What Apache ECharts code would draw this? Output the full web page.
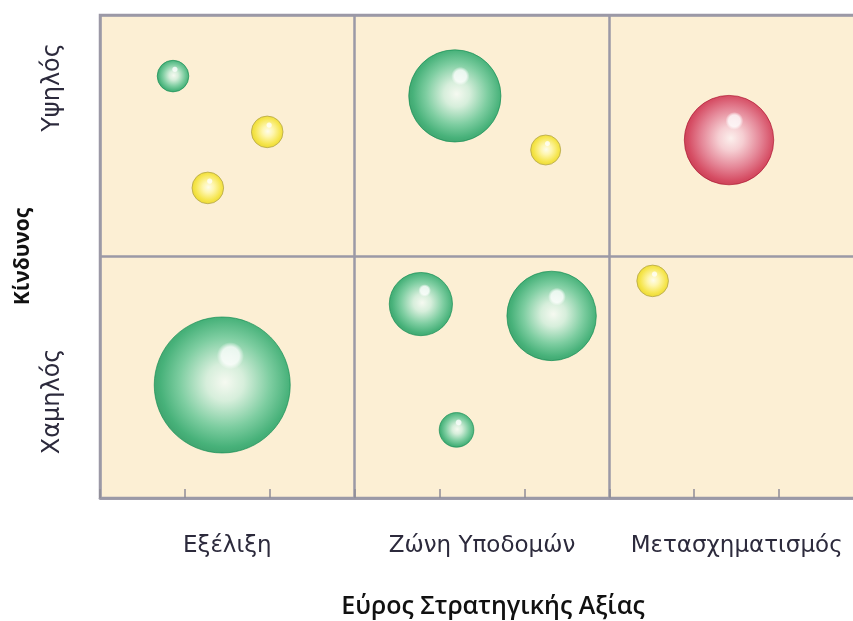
<!DOCTYPE html>
<html><head><meta charset="utf-8">
<script src="https://cdn.jsdelivr.net/npm/echarts@6/dist/echarts.min.js"></script>
<style>html,body{margin:0;padding:0;background:#fff}#c{width:853px;height:621px}</style>
</head><body><div id="c"></div>
<script>
const xCategories = ['Εξέλιξη', 'Ζώνη Υποδομών', 'Μετασχηματισμός'];
const xCategoryPositions = [1.5, 4.5, 7.5];
const yLevels = ['Χαμηλός', 'Υψηλός'];
const yLevelPositions = [4, 17];
const xTitle = 'Εύρος Στρατηγικής Αξίας';
const yTitle = 'Κίνδυνος';
// [x, y, size]
const greenBubbles = [[0.86, 17.47, 10], [4.18, 16.65, 85], [3.78, 8.03, 40], [5.32, 7.54, 80], [4.20, 2.82, 12], [1.44, 4.68, 185]];
const yellowBubbles = [[1.97, 15.16, 10], [1.27, 12.84, 10], [5.25, 14.41, 9], [6.51, 8.99, 10]];
const redBubbles = [[7.41, 14.82, 80]];

const diam = v => 10 * Math.sqrt(v[2]);
function grad(stops) {
  return {type: 'radial', x: 0.52, y: 0.48, r: 0.55, colorStops: stops.map(s => ({offset: s[0], color: s[1]}))};
}
const styles = {
  green: {color: grad([[0, '#f4fcf8'], [0.25, '#cdeedd'], [0.6, '#5ec594'], [0.86, '#1aa263'], [1, '#0d8c51']]), borderColor: '#0e8a50', borderWidth: 0.8},
  yellow: {color: grad([[0, '#fffff2'], [0.3, '#fff8a8'], [0.72, '#f4e32c'], [1, '#e3cf00']]), borderColor: '#b4a64c', borderWidth: 1},
  red: {color: grad([[0, '#fcf0f3'], [0.25, '#f4c6d2'], [0.6, '#de6a86'], [0.86, '#cc2447'], [1, '#b70f2f']]), borderColor: '#a80c2a', borderWidth: 0.8}
};
function baseSeries(data, st) {
  return {type: 'scatter', data: data, symbolSize: diam, itemStyle: st, z: 3, emphasis: {disabled: true}};
}
function shineSeries(data) {
  return {
    type: 'scatter', z: 4, silent: true,
    data: data.map(v => {
      const d = diam(v);
      return {value: v, symbolSize: d * 0.2, symbolOffset: [d * 0.06, -d * 0.215]};
    }),
    itemStyle: {color: {type: 'radial', x: 0.5, y: 0.5, r: 0.5, colorStops: [{offset: 0, color: 'rgba(255,255,255,1)'}, {offset: 0.65, color: 'rgba(255,255,255,0.97)'}, {offset: 1, color: 'rgba(255,255,255,0)'}]}}
  };
}
const lineCol = '#9b99a6';
const txtCol = '#2c2a3c';
const font = 'DejaVu Sans';

const option = {
  animation: false,
  grid: {left: 100, top: 15, bottom: 123, right: -11, outerBoundsMode: 'none', containLabel: false, show: true, backgroundColor: '#fcefd4', borderColor: lineCol, borderWidth: 2.5},
  xAxis: [
    {type: 'value', min: 0, max: 9, interval: 3, axisLine: {show: false}, axisTick: {show: false}, axisLabel: {show: false},
     splitLine: {show: true, lineStyle: {color: lineCol, width: 2.5}}},
    {type: 'value', min: 0, max: 9, interval: 1, position: 'bottom', axisLine: {show: true, lineStyle: {color: lineCol, width: 2.5}},
     axisTick: {show: true, inside: true, length: 9, lineStyle: {color: '#8f8c96', width: 1.5}}, axisLabel: {show: false}, splitLine: {show: false}},
    {type: 'value', min: 0, max: 9, interval: 1.5, position: 'bottom', axisLine: {show: false}, axisTick: {show: false}, splitLine: {show: false},
     axisLabel: {show: true, margin: 37, color: txtCol, fontFamily: font, fontSize: 23,
       formatter: v => { const i = xCategoryPositions.indexOf(v); return i >= 0 ? xCategories[i] : ''; }},
     name: xTitle, nameLocation: 'middle', nameGap: 96,
     nameTextStyle: {color: '#111', fontFamily: 'Open Sans', fontSize: 25, fontWeight: 600, padding: [0, 0, 0, 22]}}
  ],
  yAxis: [
    {type: 'value', min: 0, max: 20, interval: 10, axisLine: {show: false}, axisTick: {show: false}, axisLabel: {show: false},
     splitLine: {show: true, lineStyle: {color: lineCol, width: 2.5}}},
    {type: 'value', min: 0, max: 20, interval: 1, position: 'left', axisLine: {show: false}, axisTick: {show: false}, splitLine: {show: false},
     axisLabel: {show: true, rotate: 90, margin: 35, color: txtCol, fontFamily: font, fontSize: 24,
       formatter: v => { const i = yLevelPositions.indexOf(v); return i >= 0 ? yLevels[i] : ''; }},
     name: yTitle, nameLocation: 'middle', nameGap: 66, nameRotate: 90,
     nameTextStyle: {color: '#111', fontFamily: 'Open Sans', fontSize: 21, fontWeight: 'bold'}}
  ],
  series: [
    baseSeries(greenBubbles, styles.green), shineSeries(greenBubbles),
    baseSeries(yellowBubbles, styles.yellow), shineSeries(yellowBubbles),
    baseSeries(redBubbles, styles.red), shineSeries(redBubbles)
  ]
};
const chart = echarts.init(document.getElementById('c'), null, {renderer: 'canvas'});
chart.setOption(option);
</script></body></html>
